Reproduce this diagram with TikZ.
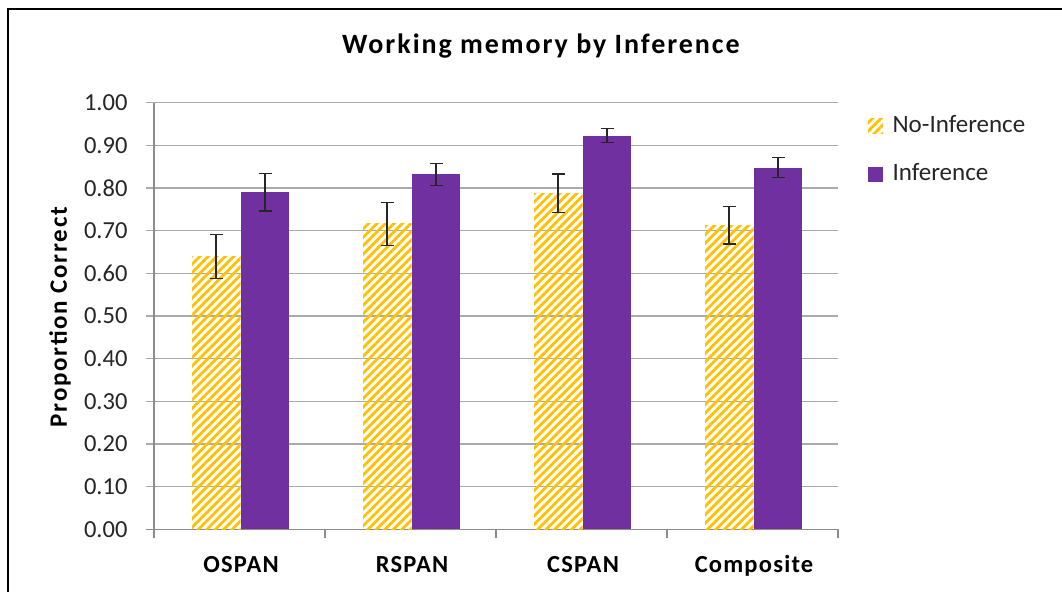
\documentclass[tikz,border=0pt]{standalone}
\usepackage{fontspec}
\setmainfont{Carlito}
\newfontfamily\widefont[LetterSpace=7]{Carlito}
\newfontfamily\catfont[LetterSpace=5]{Carlito}
\usepackage{xcolor}
\usepackage{tikz}
\usetikzlibrary{patterns.meta}

\definecolor{infpurple}{RGB}{112,48,160}
\definecolor{noinfgold}{RGB}{255,192,0}
\definecolor{gridgray}{RGB}{170,170,170}
\definecolor{axisgray}{RGB}{140,140,140}

\begin{document}
\begin{tikzpicture}[x=1pt,y=-1pt,
    hatchbar/.style={pattern={Lines[angle=45,distance=6pt,line width=2.8pt]},pattern color=noinfgold},
    fullbar/.style={fill=infpurple},
    errbar/.style={line width=1.2pt,black!85},
    ticklabel/.style={font=\fontsize{24.5}{26}\selectfont,anchor=east,text=black!85},
    catlabel/.style={font=\catfont\fontsize{24.5}{26}\selectfont\bfseries,anchor=base},
    legtext/.style={font=\fontsize{25}{26}\selectfont,anchor=base west,text=black!85}]
    \useasboundingbox (0,0) rectangle (1062,592);
    \fill[white] (0,0) rectangle (1062,592);
    \draw[line width=2pt] (1062,9) -- (8,9) -- (8,592);
    \node[font=\widefont\fontsize{28}{32}\selectfont\bfseries,anchor=base] (title) at (541,53) {Working memory by Inference};
    % grid and value labels
    \foreach \k in {1,...,10}
        \draw[gridgray,line width=1.2pt] (146,{529.3-42.66*\k}) -- (838,{529.3-42.66*\k});
    \foreach \k/\lab in {0/0.00,1/0.10,2/0.20,3/0.30,4/0.40,5/0.50,6/0.60,7/0.70,8/0.80,9/0.90,10/1.00}
        \node[ticklabel] (val\k) at (131,{529.3-42.66*\k}) {\lab};
    \draw[axisgray,line width=1.2pt] (154,102.7) -- (154,529.3);
    \draw[axisgray,line width=1.2pt] (146,529.3) -- (838,529.3);
    \foreach \i in {0,...,4}
        \draw[axisgray,line width=1.2pt] ({154+171*\i},529.3) -- ({154+171*\i},538);
    \node[font=\widefont\fontsize{25}{28}\selectfont\bfseries,rotate=90] (ylab) at (60,317) {Proportion Correct};
    % bars with error bars
    \foreach \i/\cat/\no/\noe/\inf/\infe in {0/OSPAN/0.639/0.052/0.790/0.044,1/RSPAN/0.716/0.050/0.832/0.026,2/CSPAN/0.788/0.045/0.923/0.017,3/Composite/0.713/0.044/0.848/0.024}{
        \pgfmathsetmacro\cx{154+171*\i}
        \path[hatchbar] (\cx+38,529.3) rectangle (\cx+86.5,{529.3-426.6*\no});
        \fill[infpurple] (\cx+86.5,529.3) rectangle (\cx+135,{529.3-426.6*\inf});
        \draw[errbar] (\cx+62,{529.3-426.6*(\no+\noe)}) -- (\cx+62,{529.3-426.6*(\no-\noe)});
        \draw[errbar] (\cx+55.5,{529.3-426.6*(\no+\noe)}) -- (\cx+68.5,{529.3-426.6*(\no+\noe)});
        \draw[errbar] (\cx+55.5,{529.3-426.6*(\no-\noe)}) -- (\cx+68.5,{529.3-426.6*(\no-\noe)});
        \draw[errbar] (\cx+111,{529.3-426.6*(\inf+\infe)}) -- (\cx+111,{529.3-426.6*(\inf-\infe)});
        \draw[errbar] (\cx+104.5,{529.3-426.6*(\inf+\infe)}) -- (\cx+117.5,{529.3-426.6*(\inf+\infe)});
        \draw[errbar] (\cx+104.5,{529.3-426.6*(\inf-\infe)}) -- (\cx+117.5,{529.3-426.6*(\inf-\infe)});
        \node[catlabel] (cat\i) at (\cx+87,572) {\cat};
    }
    % legend
    \path[hatchbar] (868,118) rectangle (883,133);
    \node[legtext] (legno) at (889,132.7) {No-Inference};
    \fill[infpurple] (868,167) rectangle (883,182);
    \node[legtext] (leginf) at (889,180.7) {Inference};
\end{tikzpicture}
\end{document}
